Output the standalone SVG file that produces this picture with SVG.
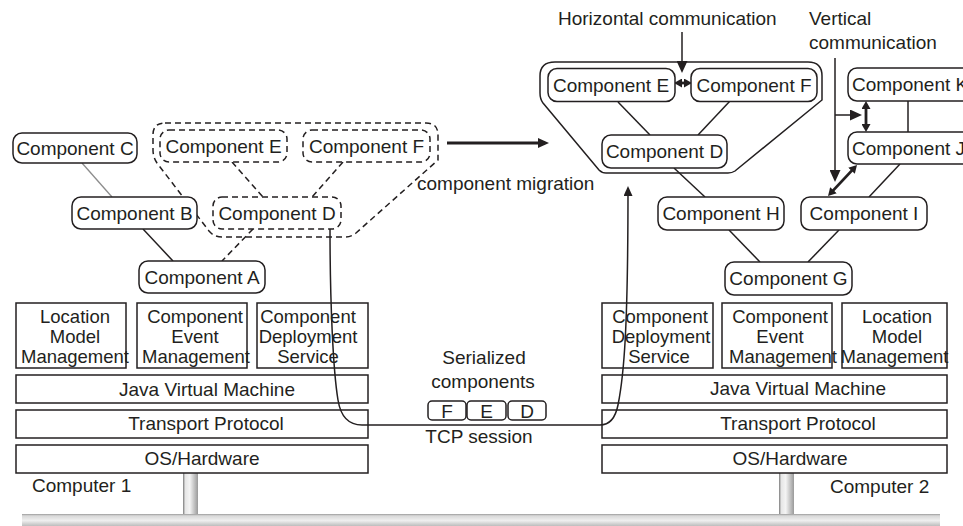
<svg xmlns="http://www.w3.org/2000/svg" width="963" height="526" viewBox="0 0 963 526">
<defs>
<style>
.t{font-family:"Liberation Sans",Arial,Helvetica,sans-serif;font-size:19px;fill:#231f20;text-anchor:middle}
.ts{font-size:18.5px}
.st{text-anchor:start}
.comp{fill:#fff;stroke:#231f20;stroke-width:1.5}
.dcomp{fill:#fff;stroke:#231f20;stroke-width:1.5;stroke-dasharray:6 4}
.layer{fill:#fff;stroke:#231f20;stroke-width:1.5}
.ln{stroke:#231f20;stroke-width:1.5;fill:none}
.gln{stroke:#8c8c8c;stroke-width:1.3;fill:none}
.dln{stroke:#231f20;stroke-width:1.5;fill:none;stroke-dasharray:6 4}
.thick{stroke:#231f20;stroke-width:2.8;fill:none}
.pole{fill:url(#pole)}
</style>
<linearGradient id="pole" x1="0" y1="0" x2="1" y2="0">
<stop offset="0" stop-color="#7a7a7a"/>
<stop offset="0.15" stop-color="#e6e6e6"/>
<stop offset="0.45" stop-color="#f4f4f4"/>
<stop offset="1" stop-color="#9a9a9a"/>
</linearGradient>
<linearGradient id="bar" x1="0" y1="0" x2="0" y2="1">
<stop offset="0" stop-color="#9a9a9a"/>
<stop offset="0.15" stop-color="#d8d8d8"/>
<stop offset="0.55" stop-color="#efefef"/>
<stop offset="1" stop-color="#bdbdbd"/>
</linearGradient>
<marker id="big" viewBox="0 0 12 11" refX="10" refY="5.5" markerWidth="12" markerHeight="11" markerUnits="userSpaceOnUse" orient="auto">
<path d="M0,0 L12,5.5 L0,11 z" fill="#231f20"/>
</marker>
<marker id="mid" viewBox="0 0 10 9" refX="8" refY="4.5" markerWidth="10" markerHeight="9" markerUnits="userSpaceOnUse" orient="auto">
<path d="M0,0 L10,4.5 L0,9 z" fill="#231f20"/>
</marker>
<marker id="bigT" viewBox="0 0 11 10" refX="7" refY="5" markerWidth="11" markerHeight="10" markerUnits="userSpaceOnUse" orient="auto">
<path d="M0,0 L11,5 L0,10 z" fill="#231f20"/>
</marker>
<marker id="sm" viewBox="0 0 8 9" refX="3" refY="4.5" markerWidth="8" markerHeight="9" markerUnits="userSpaceOnUse" orient="auto-start-reverse">
<path d="M0,0 L8,4.5 L0,9 z" fill="#231f20"/>
</marker>
</defs>
<rect width="963" height="526" fill="#fff"/>

<g id="network">
<rect x="183" y="473" width="15" height="41" class="pole"/>
<rect x="779" y="473" width="15" height="41" class="pole"/>
<rect x="22" y="514" width="918" height="12" fill="url(#bar)"/>
</g>

<g id="computer1-stack">
<g id="c1-lmm"><rect x="16" y="303" width="110" height="65" class="layer"/>
<text class="t ts" x="75" y="323">Location</text><text class="t ts" x="75" y="343">Model</text><text class="t ts" x="75" y="362.5">Management</text></g>
<g id="c1-cem"><rect x="137" y="303" width="110" height="65" class="layer"/>
<text class="t ts" x="195" y="323">Component</text><text class="t ts" x="195" y="343">Event</text><text class="t ts" x="196" y="362.5">Management</text></g>
<g id="c1-cds"><rect x="257" y="303" width="111" height="65" class="layer"/>
<text class="t ts" x="308" y="323">Component</text><text class="t ts" x="308" y="343">Deployment</text><text class="t ts" x="308" y="362.5">Service</text></g>
<g id="c1-jvm"><rect x="16" y="375" width="352" height="28" class="layer"/><text class="t" x="207" y="395.5">Java Virtual Machine</text></g>
<g id="c1-tp"><rect x="16" y="410" width="352" height="28" class="layer"/><text class="t" x="206" y="430">Transport Protocol</text></g>
<g id="c1-os"><rect x="16" y="445" width="352" height="28" class="layer"/><text class="t" x="202" y="464.5">OS/Hardware</text></g>
<text class="t st" x="32" y="492">Computer 1</text>
</g>

<g id="computer2-stack">
<g id="c2-cds"><rect x="602" y="303" width="111" height="65" class="layer"/>
<text class="t ts" x="660" y="323">Component</text><text class="t ts" x="661" y="343">Deployment</text><text class="t ts" x="659" y="362.5">Service</text></g>
<g id="c2-cem"><rect x="722" y="303" width="110" height="65" class="layer"/>
<text class="t ts" x="780" y="323">Component</text><text class="t ts" x="780" y="343">Event</text><text class="t ts" x="783" y="362.5">Management</text></g>
<g id="c2-lmm"><rect x="842" y="303" width="105" height="65" class="layer"/>
<text class="t ts" x="897" y="323">Location</text><text class="t ts" x="897" y="343">Model</text><text class="t ts" x="894.5" y="362.5">Management</text></g>
<g id="c2-jvm"><rect x="602" y="375" width="345" height="28" class="layer"/><text class="t" x="798" y="394.5">Java Virtual Machine</text></g>
<g id="c2-tp"><rect x="602" y="410" width="345" height="28" class="layer"/><text class="t" x="798" y="430">Transport Protocol</text></g>
<g id="c2-os"><rect x="602" y="445" width="345" height="28" class="layer"/><text class="t" x="790" y="464.5">OS/Hardware</text></g>
<text class="t st" x="830" y="493">Computer 2</text>
</g>

<g id="migrating-set-old">
<path class="dln" d="M165,123 H426 Q438,123 438,135 V160 L356,233 Q351,237 345,237 H222 Q214,237 209,231 L157,163 Q153,157 153,150 V135 Q153,123 165,123 Z"/>
</g>
<g id="migrated-set-new">
<path class="ln" d="M555,62 H808 Q822,62 822,76 V100 L735,171 Q732,173 728,173 H606 Q602,173 599,170 L543,103 Q540,99 540,93 V76 Q540,62 555,62 Z"/>
</g>

<g id="connectors">
<line class="gln" x1="82" y1="163" x2="112" y2="197"/>
<line class="ln" x1="143" y1="229" x2="173" y2="261"/>
<line class="dln" x1="253" y1="229" x2="222" y2="261"/>
<line class="dln" x1="232" y1="162" x2="263" y2="197"/>
<line class="dln" x1="343" y1="162" x2="312" y2="197"/>
<line class="ln" x1="618" y1="102" x2="650" y2="135"/>
<line class="ln" x1="730" y1="101" x2="698" y2="135"/>
<line class="ln" x1="674" y1="168" x2="705" y2="197"/>
<line class="ln" x1="729" y1="230" x2="760" y2="262"/>
<line class="ln" x1="839" y1="230" x2="808" y2="262"/>
<line class="ln" x1="900" y1="164" x2="869" y2="197"/>
<line class="ln" x1="908" y1="101" x2="908" y2="132"/>
<line class="thick" x1="679" y1="83" x2="687" y2="83" marker-start="url(#sm)" marker-end="url(#sm)"/>
<line class="thick" x1="866" y1="106" x2="866" y2="127" marker-start="url(#sm)" marker-end="url(#sm)"/>
<line class="thick" x1="853.6" y1="168.6" x2="831.4" y2="192.4" marker-start="url(#sm)" marker-end="url(#sm)"/>
<line class="thick" x1="447" y1="143" x2="545" y2="143" marker-end="url(#bigT)"/>
<line class="ln" x1="682" y1="32" x2="682" y2="71" marker-end="url(#big)"/>
<line class="ln" x1="835" y1="58" x2="835" y2="180" marker-end="url(#big)"/>
<line class="ln" x1="835" y1="115" x2="860" y2="115" marker-end="url(#big)"/>
<path class="ln" d="M330,229 C330,300 333,370 338,400 Q342,425 362,425 L600,425 Q614,425 618,405 C624,375 628,330 628,188" marker-end="url(#mid)"/>
</g>

<g id="comp-C"><rect class="comp" x="13" y="133" width="124" height="30" rx="9"/><text class="t" x="75" y="154.5">Component C</text></g>
<g id="comp-B"><rect class="comp" x="72" y="197" width="125" height="32" rx="9"/><text class="t" x="134.5" y="219.5">Component B</text></g>
<g id="comp-A"><rect class="comp" x="139" y="261" width="126" height="32" rx="9"/><text class="t" x="202" y="283.5">Component A</text></g>
<g id="comp-D-old"><rect class="dcomp" x="213" y="197" width="128" height="32" rx="9"/><text class="t" x="277" y="219.5">Component D</text></g>
<g id="comp-E-old"><rect class="dcomp" x="160" y="130" width="127" height="32" rx="9"/><text class="t" x="223.5" y="152.5">Component E</text></g>
<g id="comp-F-old"><rect class="dcomp" x="303" y="130" width="127" height="32" rx="9"/><text class="t" x="366.5" y="152.5">Component F</text></g>

<g id="comp-E"><rect class="comp" x="548" y="68.5" width="127" height="33" rx="9"/><text class="t" x="611" y="91.5">Component E</text></g>
<g id="comp-F"><rect class="comp" x="691" y="68.5" width="126" height="33" rx="9"/><text class="t" x="754" y="91.5">Component F</text></g>
<g id="comp-D"><rect class="comp" x="602" y="135" width="125" height="33" rx="9"/><text class="t" x="664.5" y="158">Component D</text></g>
<g id="comp-H"><rect class="comp" x="658" y="197" width="126" height="33" rx="9"/><text class="t" x="721" y="220">Component H</text></g>
<g id="comp-I"><rect class="comp" x="801" y="197" width="126" height="33" rx="9"/><text class="t" x="864" y="220">Component I</text></g>
<g id="comp-G"><rect class="comp" x="725" y="262" width="127" height="33" rx="9"/><text class="t" x="788.5" y="285">Component G</text></g>
<g id="comp-K"><rect class="comp" x="848" y="68" width="130" height="33" rx="9"/><text class="t st" x="852" y="91">Component K</text></g>
<g id="comp-J"><rect class="comp" x="848" y="132" width="130" height="32" rx="9"/><text class="t st" x="852" y="154.5">Component J</text></g>

<g id="serialized">
<text class="t" x="484" y="364">Serialized</text>
<text class="t" x="483" y="388">components</text>
<rect class="comp" x="428" y="401" width="38" height="19" rx="4"/>
<rect class="comp" x="467" y="401" width="39" height="19" rx="4"/>
<rect class="comp" x="508" y="401" width="38" height="19" rx="4"/>
<text class="t" x="447" y="417.5">F</text>
<text class="t" x="486.5" y="417.5">E</text>
<text class="t" x="527" y="417.5">D</text>
<text class="t" x="479" y="443">TCP session</text>
</g>

<g id="labels">
<text class="t st" x="417" y="190">component migration</text>
<text class="t st" x="558" y="25">Horizontal communication</text>
<text class="t st" x="809" y="25">Vertical</text>
<text class="t st" x="809" y="48.5">communication</text>
</g>
</svg>
